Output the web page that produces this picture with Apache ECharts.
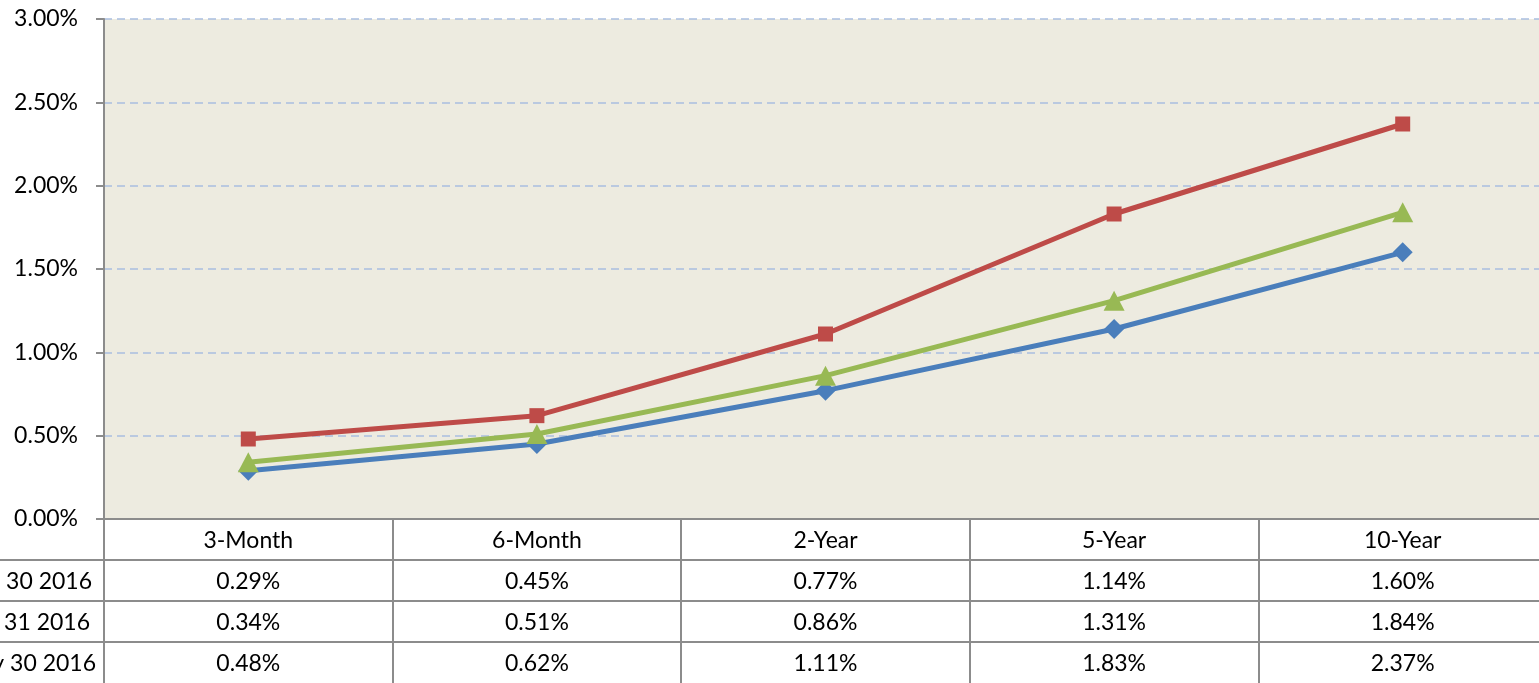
<!DOCTYPE html>
<html>
<head>
<meta charset="UTF-8">
<title>Yield curve</title>
<script src="https://cdn.jsdelivr.net/npm/echarts@6/dist/echarts.min.js"></script>
<style>
  html, body { margin: 0; padding: 0; background: #fff; }
  #chart { width: 1539px; height: 683px; }
</style>
</head>
<body>
<div id="chart"></div>
<script>
// maturities and dates
const maturities = ['3-Month', '6-Month', '2-Year', '5-Year', '10-Year'];
const dates = ['September 30 2016', 'October 31 2016', 'May 30 2016'];

// yields in percent, one array per date
const yieldsSep = [0.29, 0.45, 0.77, 1.14, 1.60];
const yieldsOct = [0.34, 0.51, 0.86, 1.31, 1.84];
const yieldsNov = [0.48, 0.62, 1.11, 1.83, 2.37];

const yTicks = [0, 0.5, 1, 1.5, 2, 2.5, 3];

const rows = [yieldsSep, yieldsOct, yieldsNov];
const colors = ['#4A7EBB', '#98B954', '#BE4B48'];
const symbols = ['diamond', 'triangle', 'rect'];
const symbolSizes = [20, [21, 20], 15];
const nameGaps = [12, 14, 8];

const font = 'Lato, "Open Sans", sans-serif';
const gray = '#8C8C8C';
const fs = 23;

const chart = echarts.init(document.getElementById('chart'));

// data table under the plot: one extra x axis per row
const tableAxes = rows.map((row, i) => ({
  type: 'category',
  data: maturities,
  position: 'bottom',
  offset: 41 * (i + 1),
  axisLine: { show: true, lineStyle: { color: gray, width: 2 } },
  axisTick: { show: false },
  axisLabel: {
    margin: 10,
    color: '#000',
    fontFamily: font,
    fontSize: fs,
    formatter: (v, idx) => row[idx].toFixed(2) + '%'
  },
  name: dates[i],
  nameLocation: 'start',
  nameGap: nameGaps[i],
  nameTextStyle: {
    color: '#000',
    fontFamily: font,
    fontSize: fs,
    align: 'right',
    verticalAlign: 'top',
    padding: [10, 0, 0, 0]
  }
}));

chart.setOption({
  animation: false,
  grid: {
    left: 104,
    top: 19,
    width: 1443,
    bottom: 164,
    outerBoundsMode: 'none',
    containLabel: false,
    show: true,
    backgroundColor: '#EDEBE0',
    borderWidth: 0
  },
  xAxis: [{
    type: 'category',
    data: maturities,
    position: 'bottom',
    axisLine: { show: true, lineStyle: { color: gray, width: 2 } },
    axisTick: { show: true, length: 164, lineStyle: { color: gray, width: 2 } },
    axisLabel: { margin: 10, color: '#000', fontFamily: font, fontSize: fs },
    splitLine: { show: false }
  }].concat(tableAxes),
  yAxis: {
    type: 'value',
    min: yTicks[0],
    max: yTicks[yTicks.length - 1],
    interval: 0.5,
    axisLine: { show: true, lineStyle: { color: gray, width: 2 } },
    axisTick: { show: true, length: 8, lineStyle: { color: gray, width: 2 } },
    axisLabel: {
      margin: 26,
      color: '#000',
      fontFamily: font,
      fontSize: fs,
      formatter: v => v.toFixed(2) + '%'
    },
    splitLine: {
      show: true,
      lineStyle: { color: '#A9BFE0', width: 1.5, type: [8, 5] }
    }
  },
  graphic: [0, 1, 2].map(i => ({
    type: 'line',
    shape: { x1: 0, y1: 560 + 41 * i, x2: 104, y2: 560 + 41 * i },
    style: { stroke: gray, lineWidth: 2 }
  })),
  series: rows.map((row, i) => ({
    type: 'line',
    name: dates[i],
    data: row,
    xAxisIndex: 0,
    symbol: symbols[i],
    symbolSize: symbolSizes[i],
    showAllSymbol: true,
    lineStyle: { color: colors[i], width: 5 },
    itemStyle: { color: colors[i] },
    emphasis: { disabled: true }
  }))
});
</script>
</body>
</html>
